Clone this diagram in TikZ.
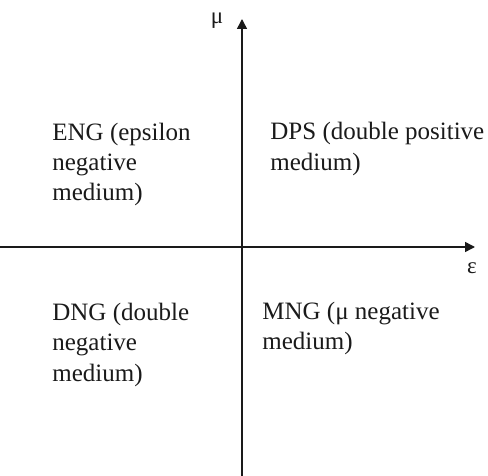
\documentclass[tikz,border=0pt]{standalone}
\usepackage{fontspec}
\setmainfont{Liberation Serif}
\usepackage{xcolor}
\usepackage{tikz}
\usetikzlibrary{arrows.meta}
\definecolor{MMInk}{HTML}{1A1A1A}
\tikzset{
  >={Triangle[length=5pt,width=5pt]},
  mmaxis/.style={->, line width=0.75pt, draw=MMInk},
  mmregion/.style={anchor=base west, align=left, inner sep=0pt, text=MMInk,
    font=\fontsize{12.5}{15.25}\selectfont},
  mmsymbol/.style={anchor=base, inner sep=0pt, text=MMInk,
    font=\fontsize{11.5}{13}\selectfont}
}
\begin{document}
\begin{tikzpicture}[x=0.5pt, y=-0.5pt]
  \useasboundingbox (0,0) rectangle (488,476);
  % axes
  \coordinate (ybot) at (242,476);
  \coordinate (ytop) at (242,19);
  \coordinate (xleft) at (0,247);
  \coordinate (xright) at (475,247);
  \draw[mmaxis] (ybot) -- (ytop);
  \draw[mmaxis] (xleft) -- (xright);
  \node[mmsymbol] (mu) at (217,24) {μ};
  \node[mmsymbol] (eps) at (472,273) {ε};

  % quadrants (anchored at the baseline of the last line)
  \node[mmregion] (eng) at (52,201) {ENG (epsilon\\negative\\medium)};
  \node[mmregion] (dps) at (270,170) {DPS (double positive\\medium)};
  \node[mmregion] (dng) at (52,381) {DNG (double\\negative\\medium)};
  \node[mmregion] (mng) at (262,350) {MNG (μ negative\\medium)};
\end{tikzpicture}
\end{document}
